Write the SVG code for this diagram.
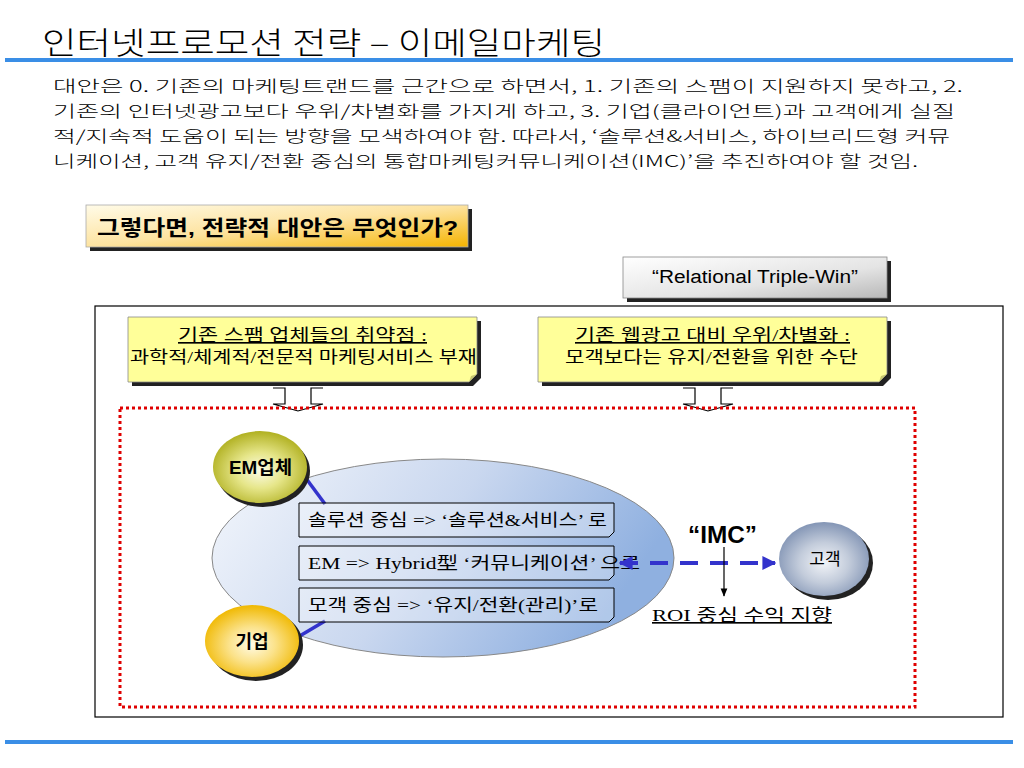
<svg xmlns="http://www.w3.org/2000/svg" width="1024" height="768" viewBox="0 0 1024 768">
<defs>
<linearGradient id="gOrange" x1="0" y1="0" x2="1" y2="1">
<stop offset="0" stop-color="#fffbe8"/><stop offset="0.5" stop-color="#fde3a0"/><stop offset="1" stop-color="#f5b400"/>
</linearGradient>
<linearGradient id="gGray" x1="0" y1="0" x2="1" y2="1">
<stop offset="0" stop-color="#ffffff"/><stop offset="0.6" stop-color="#e4e4e4"/><stop offset="1" stop-color="#b8b8b8"/>
</linearGradient>
<linearGradient id="gEll" x1="0" y1="0" x2="1" y2="0.3">
<stop offset="0" stop-color="#f4f7fc"/><stop offset="0.55" stop-color="#c9d7ef"/><stop offset="1" stop-color="#8fb0e0"/>
</linearGradient>
<radialGradient id="gOlive" cx="0.5" cy="0.55" r="0.55">
<stop offset="0" stop-color="#fbfbe6"/><stop offset="0.45" stop-color="#e6e68a"/><stop offset="1" stop-color="#b0b020"/>
</radialGradient>
<radialGradient id="gYel" cx="0.5" cy="0.55" r="0.55">
<stop offset="0" stop-color="#fffbe6"/><stop offset="0.45" stop-color="#fbe28a"/><stop offset="1" stop-color="#f0b800"/>
</radialGradient>
<radialGradient id="gBlueGray" cx="0.5" cy="0.55" r="0.55">
<stop offset="0" stop-color="#f2f4f8"/><stop offset="0.5" stop-color="#c3ccdb"/><stop offset="1" stop-color="#8395b5"/>
</radialGradient>
<marker id="mBlue" viewBox="0 0 10 10" refX="9" refY="5" markerWidth="3.5" markerHeight="3.5" orient="auto-start-reverse">
<path d="M0,0 L10,5 L0,10 z" fill="#3333cc"/>
</marker>
<marker id="mBlack" viewBox="0 0 10 10" refX="9" refY="5" markerWidth="7" markerHeight="7" orient="auto">
<path d="M0,1 L10,5 L0,9 z" fill="#000"/>
</marker>
</defs>
<style>
.ttl{font-family:"Noto Sans CJK KR",sans-serif;font-weight:300;font-size:31px;fill:#000}
.par{font-family:"Noto Sans CJK KR",sans-serif;font-weight:300;font-size:16px;fill:#000}
.bold{font-family:"Liberation Sans","Noto Sans CJK KR",sans-serif;font-weight:bold;fill:#000}
.sans{font-family:"Liberation Sans","Noto Sans CJK KR",sans-serif;fill:#000}
.ser{font-family:"Liberation Serif","Noto Sans CJK KR",serif;font-size:16.5px;fill:#000}
.blue{fill:#3a8ee6}
.yel{fill:#ffff99;stroke:#888;stroke-width:0.8}
.shadow{fill:#222}
.tbox{fill:#ffffff;fill-opacity:0.3;stroke:#000;stroke-width:1}
</style>

<g id="header">
<text class="ttl" x="42" y="54" textLength="563" lengthAdjust="spacingAndGlyphs">인터넷프로모션 전략 – 이메일마케팅</text>
<rect class="blue" x="5" y="58" width="1008" height="4"/>
<rect class="blue" x="5" y="740" width="1008" height="4"/>
</g>

<g id="paragraph">
<text class="par" x="53" y="92" textLength="910" lengthAdjust="spacingAndGlyphs">대안은 0. 기존의 마케팅트랜드를 근간으로 하면서, 1. 기존의 스팸이 지원하지 못하고, 2.</text>
<text class="par" x="53" y="117" textLength="902" lengthAdjust="spacingAndGlyphs">기존의 인터넷광고보다 우위/차별화를 가지게 하고, 3. 기업(클라이언트)과 고객에게 실질</text>
<text class="par" x="53" y="142" textLength="897" lengthAdjust="spacingAndGlyphs">적/지속적 도움이 되는 방향을 모색하여야 함. 따라서, ‘솔루션&amp;서비스, 하이브리드형 커뮤</text>
<text class="par" x="53" y="167" textLength="865" lengthAdjust="spacingAndGlyphs">니케이션, 고객 유지/전환 중심의 통합마케팅커뮤니케이션(IMC)’을 추진하여야 할 것임.</text>
</g>

<g id="question">
<rect class="shadow" x="90" y="209" width="382" height="42"/>
<rect x="86" y="205" width="382" height="42" fill="url(#gOrange)" stroke="#aaa" stroke-width="0.8"/>
<text class="bold" x="97" y="235" font-size="21" textLength="361" lengthAdjust="spacingAndGlyphs">그렇다면, 전략적 대안은 무엇인가?</text>
</g>

<g id="triplewin">
<rect class="shadow" x="627" y="261" width="264" height="41"/>
<rect x="623" y="257" width="264" height="41" fill="url(#gGray)" stroke="#888" stroke-width="0.8"/>
<text class="sans" x="652" y="283" font-size="18" textLength="206" lengthAdjust="spacingAndGlyphs">“Relational Triple-Win”</text>
</g>

<rect id="outer" x="95" y="306" width="908" height="411" fill="#fff" stroke="#000" stroke-width="1.2"/>

<g id="weak">
<path class="shadow" d="M132,321 H481 V378 L473,386 H132 z"/>
<path class="yel" d="M128,317 H477 V374 L469,382 H128 z"/>
<path d="M469,382 L471,376 L477,374 z" fill="#c8c870"/>
<text class="ser" x="178" y="341" textLength="249" lengthAdjust="spacingAndGlyphs" text-decoration="underline">기존 스팸 업체들의 취약점 :</text>
<text class="ser" x="130" y="363" textLength="347" lengthAdjust="spacingAndGlyphs">과학적/체계적/전문적 마케팅서비스 부재</text>
</g>

<g id="diff">
<path class="shadow" d="M542,321 H891 V378 L883,386 H542 z"/>
<path class="yel" d="M538,317 H887 V374 L879,382 H538 z"/>
<path d="M879,382 L881,376 L887,374 z" fill="#c8c870"/>
<text class="ser" x="575" y="341" textLength="275" lengthAdjust="spacingAndGlyphs" text-decoration="underline">기존 웹광고 대비 우위/차별화 :</text>
<text class="ser" x="565" y="363" textLength="293" lengthAdjust="spacingAndGlyphs">모객보다는 유지/전환을 위한 수단</text>
</g>

<g id="arrows-top" fill="#fff" stroke="#000" stroke-width="1.2">
<path d="M273,388 H285 V404 H273 L298,411 L323,404 H311 V388 H323"/>
<path d="M683,388 H695 V404 H683 L708,411 L733,404 H721 V388 H733"/>
</g>

<rect id="imc-area" x="120" y="408" width="795" height="299" fill="none" stroke="#e00000" stroke-width="3" stroke-dasharray="3,3"/>

<g id="ellipse">
<ellipse cx="443" cy="558" rx="231" ry="99" fill="url(#gEll)" stroke="#888" stroke-width="1"/>
</g>

<g id="links" fill="none">
<line x1="305" y1="477" x2="325" y2="504" stroke="#3333cc" stroke-width="3.5"/>
<line x1="298" y1="637" x2="325" y2="621" stroke="#3333cc" stroke-width="3.5"/>
</g>

<g id="box1">
<path class="tbox" d="M299,503 H614 V532 L609,537 H299 z"/>
<text class="ser" x="308" y="526" textLength="299" lengthAdjust="spacingAndGlyphs">솔루션 중심 =&gt; ‘솔루션&amp;서비스’ 로</text>
</g>
<g id="box2">
<path class="tbox" d="M299,546 H614 V575 L609,580 H299 z"/>
<text class="ser" x="308" y="569" textLength="332" lengthAdjust="spacingAndGlyphs">EM =&gt; Hybrid型  ‘커뮤니케이션’ 으로</text>
</g>
<g id="box3">
<path class="tbox" d="M299,588 H614 V617 L609,622 H299 z"/>
<text class="ser" x="308" y="611" textLength="290" lengthAdjust="spacingAndGlyphs">모객 중심 =&gt; ‘유지/전환(관리)’로</text>
</g>

<g id="em">
<ellipse class="shadow" cx="263" cy="471" rx="47" ry="36"/>
<ellipse cx="260" cy="467" rx="47" ry="36" fill="url(#gOlive)"/>
<text class="bold" x="229" y="474" font-size="18" textLength="63" lengthAdjust="spacingAndGlyphs">EM업체</text>
</g>

<g id="company">
<ellipse class="shadow" cx="256" cy="645" rx="47" ry="36"/>
<ellipse cx="252" cy="641" rx="47" ry="36" fill="url(#gYel)"/>
<text class="bold" x="252" y="648" font-size="18" text-anchor="middle">기업</text>
</g>

<g id="customer">
<ellipse class="shadow" cx="828" cy="563" rx="45" ry="37"/>
<ellipse cx="824" cy="559" rx="45" ry="37" fill="url(#gBlueGray)"/>
<text class="sans" x="825" y="565" font-size="17" text-anchor="middle">고객</text>
</g>

<g id="connectors" fill="none">
<line x1="620" y1="563" x2="775" y2="563" stroke="#3333cc" stroke-width="4" stroke-dasharray="18,12" marker-start="url(#mBlue)" marker-end="url(#mBlue)"/>
<line x1="724" y1="547" x2="724" y2="596" stroke="#000" stroke-width="1.2" marker-end="url(#mBlack)"/>
</g>

<g id="labels">
<text class="bold" x="688" y="543" font-size="24" textLength="69" lengthAdjust="spacingAndGlyphs">“IMC”</text>
<text class="ser" x="652" y="621" font-size="17" textLength="180" lengthAdjust="spacingAndGlyphs" text-decoration="underline">ROI 중심 수익 지향</text>
</g>
</svg>
